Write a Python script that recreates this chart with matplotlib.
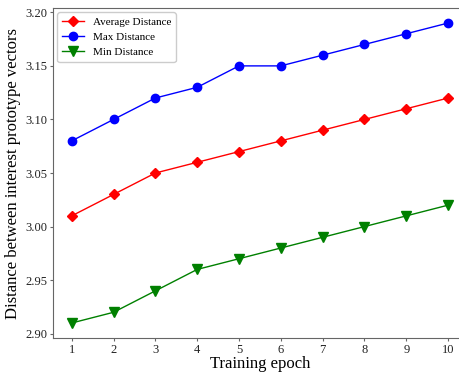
import matplotlib
matplotlib.use("Agg")
import matplotlib.pyplot as plt

plt.rcParams['font.family'] = ['Liberation Serif', 'DejaVu Serif']

epochs = [1, 2, 3, 4, 5, 6, 7, 8, 9, 10]
avg_dist = [3.01, 3.03, 3.05, 3.06, 3.07, 3.08, 3.09, 3.10, 3.11, 3.12]
max_dist = [3.08, 3.10, 3.12, 3.13, 3.15, 3.15, 3.16, 3.17, 3.18, 3.19]
min_dist = [2.91, 2.92, 2.94, 2.96, 2.97, 2.98, 2.99, 3.00, 3.01, 3.02]
yticks = [2.90, 2.95, 3.00, 3.05, 3.10, 3.15, 3.20]

fig = plt.figure(figsize=(4.6, 3.72), dpi=100)
ax = fig.add_axes([0.115, 0.0914, 0.90, 0.887])

ax.plot(epochs, avg_dist, color='red', marker='D', markersize=5.5, linewidth=1, label='Average Distance')
ax.plot(epochs, max_dist, color='blue', marker='o', markersize=6, linewidth=1, label='Max Distance')
ax.plot(epochs, min_dist, color='green', marker='v', markersize=6.5, linewidth=1, label='Min Distance')

ax.set_xticks(epochs)
ax.set_yticks(yticks)
ax.set_yticklabels([f"{v:.2f}" for v in yticks])
ax.tick_params(labelsize=9, length=2, pad=2, color='#666666', labelcolor='#222222')
for s in ax.spines.values():
    s.set_color('#666666')

ax.set_xlabel('Training epoch', fontsize=12, labelpad=0)
ax.set_ylabel('Distance between interest prototype vectors', fontsize=12, labelpad=3)
ax.legend(loc='upper left', fontsize=8, framealpha=1, edgecolor='#cccccc',
          borderaxespad=0.4)

fig.savefig('out.png', dpi=100)
